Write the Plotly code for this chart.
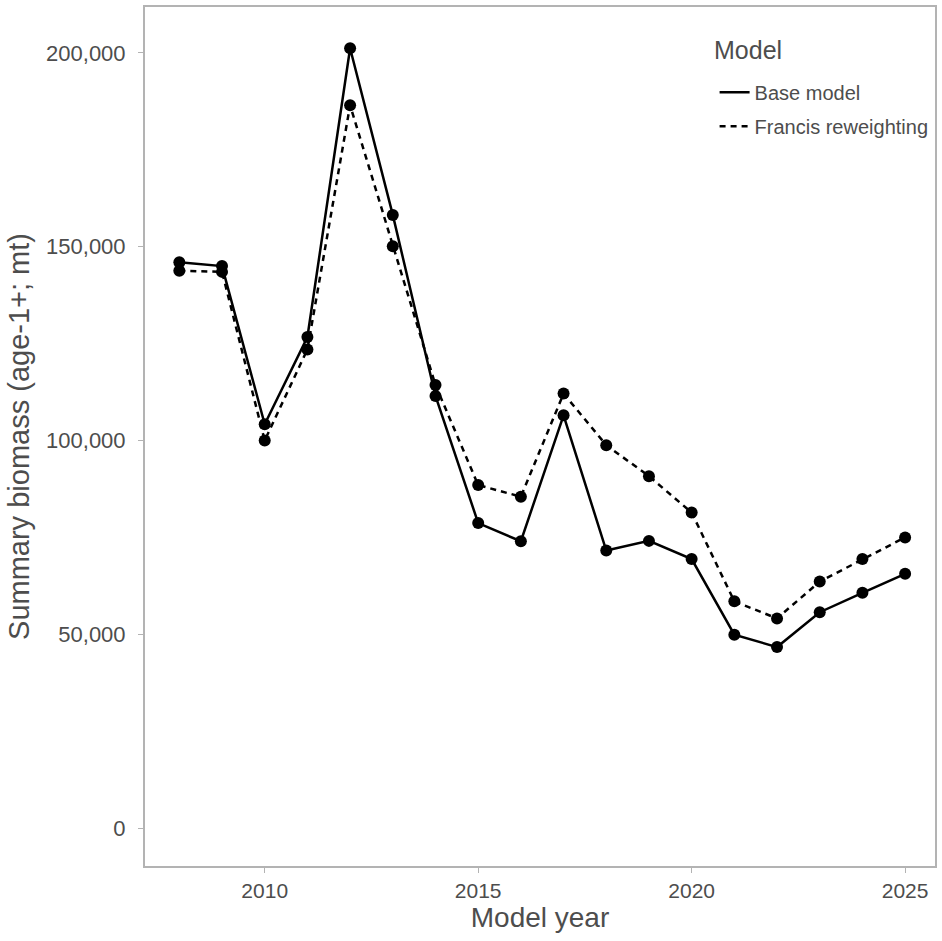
import plotly.graph_objects as go

years = list(range(2008, 2026))
base_model = [146000, 145000, 104200, 126700, 201200, 158200, 111500, 78700, 74000,
              106500, 71600, 74100, 69400, 49900, 46700, 55700, 60700, 65600]
francis = [143800, 143500, 100000, 123500, 186500, 150100, 114300, 88500, 85500,
           112100, 98800, 90800, 81400, 58500, 54100, 63600, 69400, 75000]

y_ticks = [0, 50000, 100000, 150000, 200000]
y_tick_text = ['0', '50,000', '100,000', '150,000', '200,000']
x_ticks = [2010, 2015, 2020, 2025]

grey_text = '#4d4d4d'
border = '#b3b3b3'

fig = go.Figure()

series = [
    ('Base model', base_model, 'solid'),
    ('Francis reweighting', francis, '6px,5px'),
]

for name, values, dash in series:
    fig.add_trace(
        go.Scatter(
            x=years,
            y=values,
            mode='lines',
            line=dict(color='black', width=2.5, dash=dash),
            name=name,
            legendgroup=name,
            showlegend=True
        )
    )
    fig.add_trace(
        go.Scatter(
            x=years,
            y=values,
            mode='markers',
            marker=dict(size=12, color='black'),
            name=name,
            legendgroup=name,
            showlegend=False
        )
    )

# legend title drawn separately so the gap below it matches
fig.add_annotation(
    text='Model',
    xref='paper', yref='paper',
    x=0.718, y=0.950,
    xanchor='left', yanchor='middle',
    showarrow=False,
    font=dict(size=25, color=grey_text)
)

fig.update_layout(
    width=942,
    height=941,
    template='plotly_white',
    paper_bgcolor='white',
    plot_bgcolor='white',
    margin=dict(l=145, r=5, t=5, b=75),
    font=dict(family='Liberation Sans, Arial, sans-serif', color=grey_text),
    legend=dict(
        x=0.721,
        y=0.9235,
        xanchor='left',
        yanchor='top',
        bgcolor='rgba(0,0,0,0)',
        font=dict(size=20, color=grey_text),
        tracegroupgap=5
    ),
    xaxis=dict(
        title=dict(text='Model year', font=dict(size=28, color=grey_text), standoff=4),
        range=[2007.196, 2025.70],
        tickvals=x_ticks,
        showgrid=False,
        zeroline=False,
        showline=True,
        mirror=True,
        linecolor=border,
        linewidth=2,
        ticks='outside',
        ticklen=5,
        tickcolor=border,
        tickfont=dict(size=21, color=grey_text)
    ),
    yaxis=dict(
        title=dict(text='Summary biomass (age-1+; mt)', font=dict(size=29, color=grey_text), standoff=8),
        range=[-9781, 211840],
        tickvals=y_ticks,
        ticktext=y_tick_text,
        showgrid=False,
        zeroline=False,
        showline=True,
        mirror=True,
        linecolor=border,
        linewidth=2,
        ticks='outside',
        ticklen=5,
        tickcolor=border,
        ticklabelstandoff=8,
        tickfont=dict(size=22, color=grey_text)
    )
)

fig.write_html("out.html", config={'displayModeBar': False},
               post_script="document.body.style.margin='0';")
